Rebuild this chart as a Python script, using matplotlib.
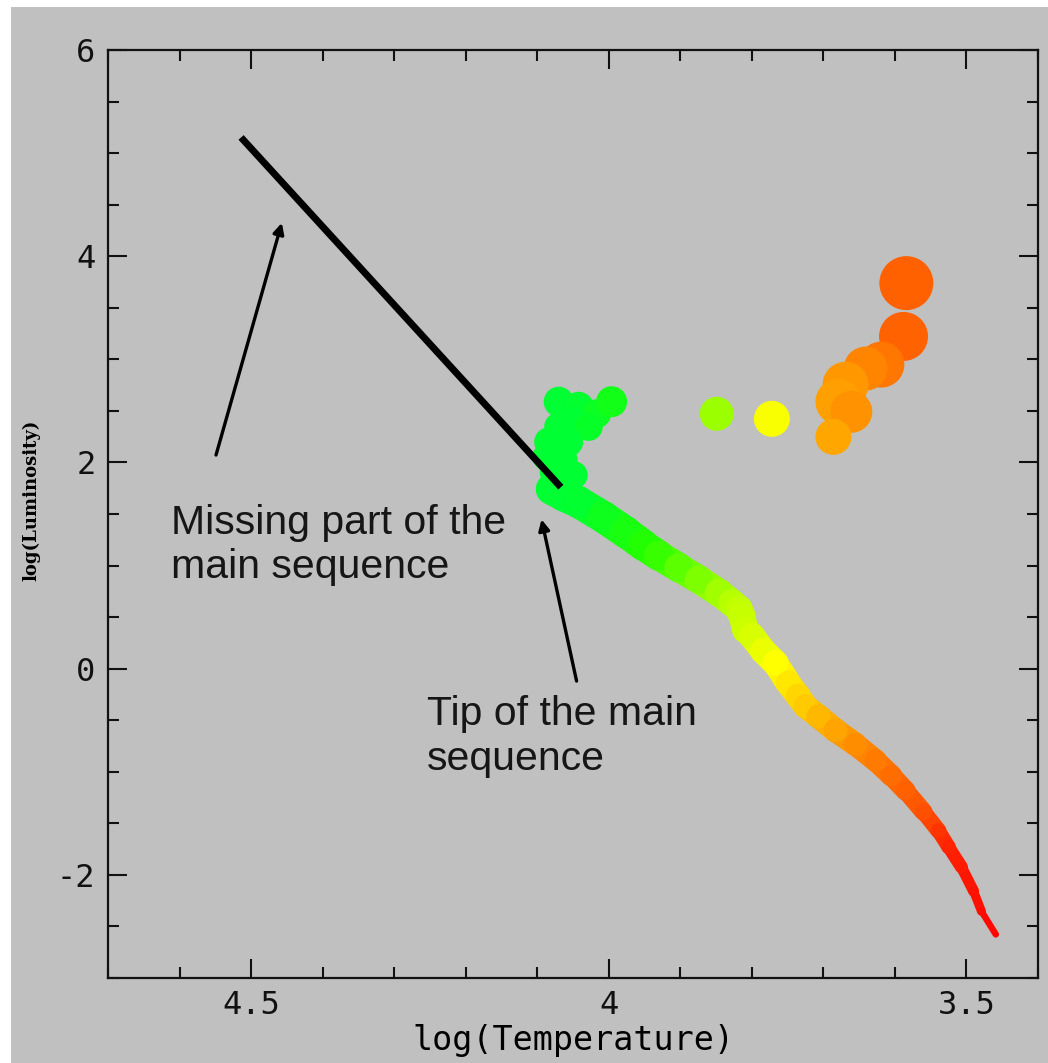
import numpy as np
import matplotlib
matplotlib.use("Agg")
import matplotlib.pyplot as plt
from matplotlib.colors import LinearSegmentedColormap, Normalize
from matplotlib.collections import LineCollection
from matplotlib.patches import Rectangle
from matplotlib.ticker import MultipleLocator, FuncFormatter

# main sequence track (log T, log L, band width in px)
ms_logt = [4.080, 4.063, 4.042, 4.007, 3.976, 3.951, 3.930, 3.902, 3.874,
           3.846, 3.828, 3.818, 3.814, 3.809, 3.800, 3.784, 3.767, 3.749,
           3.735, 3.725, 3.707, 3.683, 3.655, 3.627, 3.605, 3.585, 3.560,
           3.539, 3.525, 3.507, 3.490, 3.479, 3.459]
ms_logl = [1.741, 1.680, 1.614, 1.468, 1.322, 1.195, 1.097, 0.980, 0.864,
           0.737, 0.639, 0.580, 0.513, 0.376, 0.318, 0.172, 0.055, -0.140,
           -0.267, -0.364, -0.462, -0.598, -0.735, -0.891, -1.037, -1.183,
           -1.388, -1.573, -1.729, -1.924, -2.158, -2.353, -2.577]
ms_width = [31, 32, 32, 32, 32, 31, 30, 29, 28,
            28, 27, 27, 27, 26, 26, 26, 26, 25,
            25, 24, 24, 24, 23, 22, 21, 19, 17,
            15, 14, 12, 10, 8, 5]

# evolved stars (giants)
gi_logt = [4.070, 4.042, 4.017, 3.996, 4.049, 4.070, 4.028, 4.084, 4.056,
           4.087, 4.063, 4.077, 4.049,
           3.849, 3.772,
           3.584, 3.588, 3.619, 3.641, 3.669, 3.679, 3.661, 3.686]
gi_logl = [2.589, 2.540, 2.472, 2.589, 2.394, 2.345, 2.345, 2.199, 2.199,
           2.053, 2.023, 1.906, 1.877,
           2.472, 2.423,
           3.739, 3.222, 2.949, 2.910, 2.754, 2.589, 2.491, 2.248]
gi_size = [30, 30, 29, 31, 30, 29, 28, 29, 29,
           28, 28, 28, 28,
           34, 36,
           54, 49, 46, 44, 46, 46, 42, 36]

# extrapolated missing upper main sequence
miss_logt = [4.514, 4.067]
miss_logl = [5.152, 1.760]

temp_cmap = LinearSegmentedColormap.from_list("hr", [
    (0.00, "#ff0000"), (0.12, "#ff2200"), (0.18, "#ff5000"),
    (0.25, "#ff6a00"), (0.35, "#ff9000"), (0.40, "#ffaa00"),
    (0.45, "#ffc400"), (0.53, "#ffff00"), (0.67, "#99ff00"),
    (0.83, "#22ff00"), (1.00, "#00ff33")])
norm = Normalize(3.45, 4.05)

BG = "#c0c0c0"
fig = plt.figure(figsize=(10.48, 10.63), dpi=100, facecolor="white")
fig.patches.append(Rectangle((11 / 1048, 0), 1, (1063 - 7) / 1063,
                             transform=fig.transFigure, facecolor=BG,
                             edgecolor="none", zorder=-10))
ax = fig.add_axes([108 / 1048, 85 / 1063, 930 / 1048, 928 / 1063])
ax.set_facecolor(BG)
ax.set_xlim(4.7, 3.4)
ax.set_ylim(-3, 6)

# main sequence band
pts = np.column_stack([ms_logt, ms_logl])
segs = np.stack([pts[:-1], pts[1:]], axis=1)
mid_t = (np.array(ms_logt[:-1]) + np.array(ms_logt[1:])) / 2
mid_w = (np.array(ms_width[:-1]) + np.array(ms_width[1:])) / 2
lc = LineCollection(segs, colors=temp_cmap(norm(mid_t)),
                    linewidths=mid_w * 0.72, capstyle="round", zorder=2)
ax.add_collection(lc)
ax.scatter(ms_logt, ms_logl, s=(np.array(ms_width) * 0.72) ** 2,
           c=ms_logt, cmap=temp_cmap, norm=norm, linewidths=0, zorder=2)

ax.scatter(gi_logt, gi_logl, s=(np.array(gi_size) * 0.72) ** 2,
           c=gi_logt, cmap=temp_cmap, norm=norm, linewidths=0, zorder=3)

ax.plot(miss_logt, miss_logl, color="black", lw=5, solid_capstyle="butt",
        zorder=4)

arrow = dict(arrowstyle="-|>", color="black", lw=2.4, mutation_scale=16,
             shrinkA=0, shrinkB=0)
ax.annotate("", xy=(4.457, 4.324), xytext=(4.549, 2.072),
            arrowprops=arrow, zorder=5)
ax.annotate("", xy=(4.094, 1.448), xytext=(4.045, -0.12),
            arrowprops=arrow, zorder=5)

txt = dict(fontsize=29.5, family="Liberation Sans", color="#161616",
           ha="left", va="top", linespacing=1.22)
ax.text(4.612, 1.60, "Missing part of the\nmain sequence", **txt)
ax.text(4.254, -0.26, "Tip of the main\nsequence", **txt)

# axes styling
ax.xaxis.set_major_locator(MultipleLocator(0.5))
ax.xaxis.set_minor_locator(MultipleLocator(0.1))
ax.yaxis.set_major_locator(MultipleLocator(2))
ax.yaxis.set_minor_locator(MultipleLocator(0.5))
fmt = FuncFormatter(lambda v, p: "%g" % v)
ax.xaxis.set_major_formatter(fmt)
ax.yaxis.set_major_formatter(fmt)
ax.tick_params(which="both", direction="in", top=True, right=True,
               width=1.5, colors="#111111")
ax.tick_params(which="major", length=13.5, labelsize=23, pad=9)
ax.tick_params(which="minor", length=8)
for lab in ax.get_xticklabels() + ax.get_yticklabels():
    lab.set_family("DejaVu Sans Mono")
for sp in ax.spines.values():
    sp.set_linewidth(1.6)
    sp.set_color("#111111")

ax.set_xlabel("log(Temperature)", family="DejaVu Sans Mono", fontsize=24,
              labelpad=2)
ax.set_ylabel("log(Luminosity)", family="DejaVu Serif", fontweight="bold",
              fontsize=13)
ax.yaxis.set_label_coords(-0.073, 0.515)

fig.savefig("out.png", dpi=100, facecolor=fig.get_facecolor())
